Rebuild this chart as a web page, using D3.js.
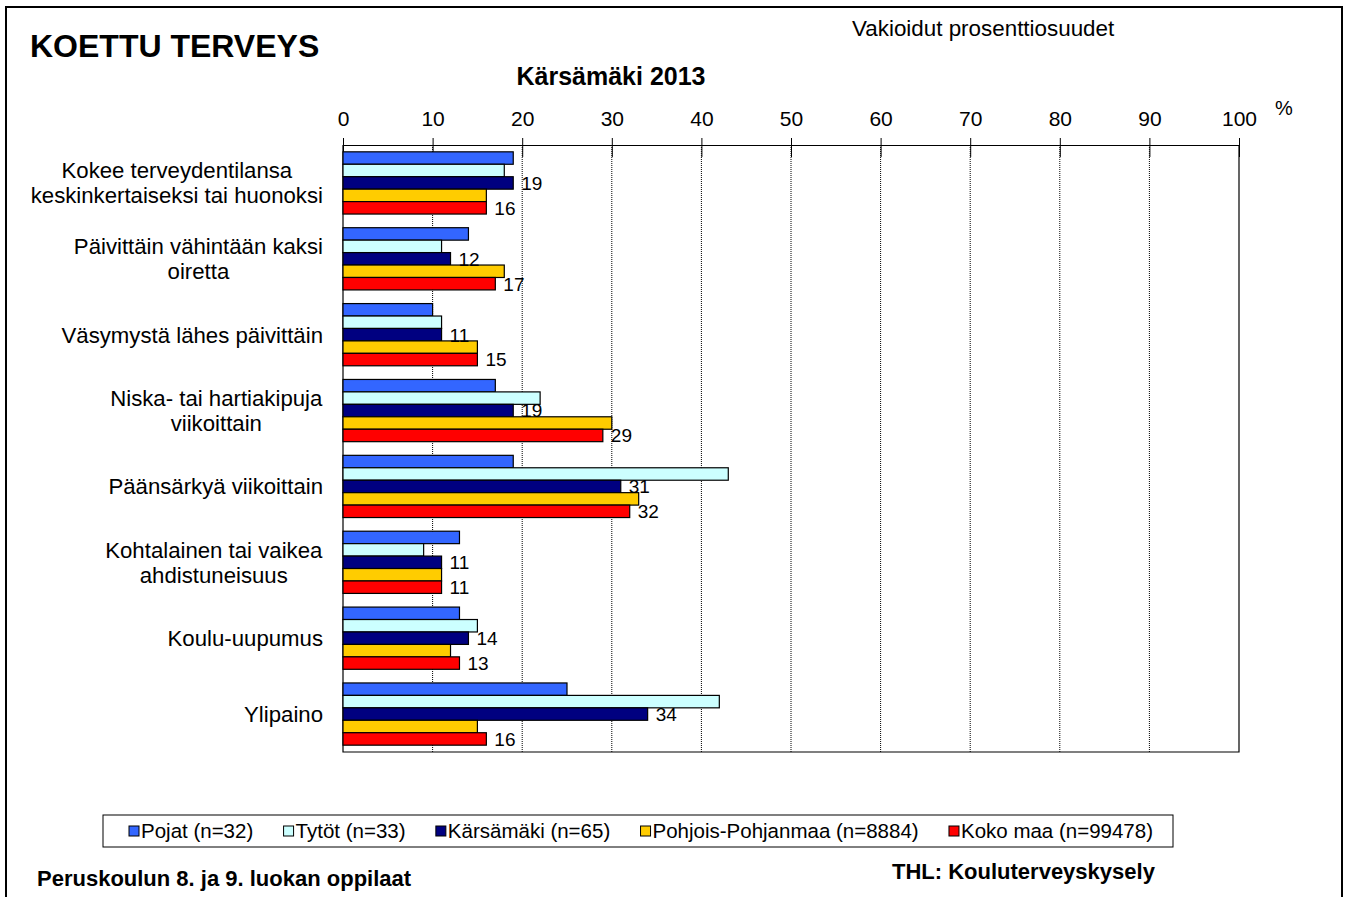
<!DOCTYPE html>
<html>
<head>
<meta charset="utf-8">
<style>
  body { margin: 0; background: #fff; font-family: "Liberation Sans", Arial, sans-serif; }
  .axis .domain { stroke: #000; }
  .axis .tick line { stroke: #000; }
  .axis .tick text { fill: #000; font-size: 21px; font-family: "Liberation Sans", Arial, sans-serif; }
  .grid line { stroke: #000; stroke-dasharray: 1,1; stroke-width: 1; }
  .bar { stroke: #000; stroke-width: 1.2; }
  .cat { font-size: 22.2px; fill: #000; }
  .val { font-size: 19px; fill: #000; }
  .legend text { font-size: 20.5px; fill: #000; }
</style>
<script src="https://d3js.org/d3.v7.min.js"></script>
</head>
<body>
<script>
// data
var categories = [
  "Kokee terveydentilansa|keskinkertaiseksi tai huonoksi",
  "Päivittäin vähintään kaksi|oiretta",
  "Väsymystä lähes päivittäin",
  "Niska- tai hartiakipuja|viikoittain",
  "Päänsärkyä viikoittain",
  "Kohtalainen tai vaikea|ahdistuneisuus",
  "Koulu-uupumus",
  "Ylipaino"
];
var seriesNames = ["Pojat (n=32)", "Tytöt (n=33)", "Kärsämäki (n=65)", "Pohjois-Pohjanmaa (n=8884)", "Koko maa (n=99478)"];
var seriesColors = ["#3366FF", "#CCFFFF", "#000080", "#FFCC00", "#FF0000"];
var pojat      = [19, 14, 10, 17, 19, 13, 13, 25];
var tytot      = [18, 11, 11, 22, 43,  9, 15, 42];
var karsamaki  = [19, 12, 11, 19, 31, 11, 14, 34];
var pohjois    = [16, 18, 15, 30, 33, 11, 12, 15];
var kokomaa    = [16, 17, 15, 29, 32, 11, 13, 16];
var labelled   = [false, false, true, false, true]; // only these series get value labels
var xTicks = [0, 10, 20, 30, 40, 50, 60, 70, 80, 90, 100];

var series = [pojat, tytot, karsamaki, pohjois, kokomaa];

var W = 1349, H = 897;
var svg = d3.select("body").append("svg")
    .attr("width", W)
    .attr("height", H);

// outer frame (bottom edge runs off the picture)
svg.append("path")
    .attr("d", "M6,899 V7 H1342 V899")
    .attr("fill", "none")
    .attr("stroke", "#000")
    .attr("stroke-width", 2);

var plot = {left: 343, right: 1239, top: 145, bottom: 752};

var x = d3.scaleLinear().domain([0, 100]).range([plot.left, plot.right]);
var y = d3.scaleBand().domain(d3.range(categories.length))
    .range([plot.top, plot.bottom])
    .paddingInner(0.18).paddingOuter(0.09);
var yInner = d3.scaleBand().domain(d3.range(series.length)).range([0, y.bandwidth()]);

// grid
svg.append("g").attr("class", "grid")
  .selectAll("line").data(xTicks.slice(1, -1)).join("line")
    .attr("x1", d => x(d)).attr("x2", d => x(d))
    .attr("y1", plot.top).attr("y2", plot.bottom);

// plot frame left/bottom/right
svg.append("path")
    .attr("d", "M" + plot.left + "," + plot.top + " V" + plot.bottom + " H" + plot.right + " V" + plot.top)
    .attr("fill", "none").attr("stroke", "#000").attr("stroke-width", 1.2);

// top axis
var ax = svg.append("g").attr("class", "axis")
    .attr("transform", "translate(0," + plot.top + ")")
    .call(d3.axisTop(x).tickValues(xTicks).tickSize(7).tickSizeOuter(0).tickPadding(12));
ax.selectAll(".tick line").attr("y2", 12).attr("y1", -7);
ax.select(".domain").attr("stroke-width", 1.2);

svg.append("text").attr("x", 1275).attr("y", 115).attr("font-size", 20).text("%");

// bars
var groups = svg.append("g").selectAll("g").data(categories).join("g")
    .attr("transform", (d, i) => "translate(0," + y(i) + ")");

groups.each(function(c, ci) {
  var g = d3.select(this);
  series.forEach(function(s, si) {
    g.append("rect").attr("class", "bar")
      .attr("x", x(0))
      .attr("y", yInner(si))
      .attr("width", x(s[ci]) - x(0))
      .attr("height", yInner.bandwidth())
      .attr("fill", seriesColors[si]);
  });
  series.forEach(function(s, si) {
    if (!labelled[si]) return;
    g.append("text").attr("class", "val")
      .attr("x", x(s[ci]) + 8)
      .attr("y", yInner(si) + yInner.bandwidth() / 2)
      .attr("dy", "0.36em")
      .text(s[ci]);
  });
});

// category labels, centred lines, block right edge at x=323
categories.forEach(function(c, ci) {
  var lines = c.split("|");
  var cy = y(ci) + y.bandwidth() / 2;
  var t = svg.append("text").attr("class", "cat")
    .attr("text-anchor", "middle")
    .attr("y", cy - (lines.length - 1) * 12.5);
  lines.forEach(function(l, li) {
    t.append("tspan").attr("x", 190).attr("dy", li === 0 ? "0.36em" : 25).text(l);
  });
  var bb = t.node().getBBox();
  t.attr("transform", "translate(" + (323 - (bb.x + bb.width)) + ",0)");
});

// titles
svg.append("text").attr("x", 30).attr("y", 57)
    .attr("font-size", 32).attr("font-weight", "bold").text("KOETTU TERVEYS");
svg.append("text").attr("x", 611).attr("y", 85).attr("text-anchor", "middle")
    .attr("font-size", 25).attr("font-weight", "bold").text("Kärsämäki 2013");
svg.append("text").attr("x", 852).attr("y", 36)
    .attr("font-size", 22.4).text("Vakioidut prosenttiosuudet");

// legend: spread entries between first square and last text end
var lg = svg.append("g").attr("class", "legend");
lg.append("rect").attr("x", 103).attr("y", 815).attr("width", 1070).attr("height", 32)
    .attr("fill", "#fff").attr("stroke", "#000").attr("stroke-width", 1);
var items = seriesNames.map(function(n, i) {
  var sq = lg.append("rect").attr("y", 826).attr("width", 10).attr("height", 10)
    .attr("fill", seriesColors[i]).attr("stroke", "#000").attr("stroke-width", 1);
  var t = lg.append("text").attr("y", 831).attr("dy", "0.36em").text(n);
  return {sq: sq, t: t, w: t.node().getComputedTextLength()};
});
var lStart = 129, lEnd = 1153, sqW = 12;
var used = d3.sum(items, d => d.w + sqW);
var gap = (lEnd - lStart - used) / (items.length - 1);
var lx = lStart;
items.forEach(function(d) {
  d.sq.attr("x", lx);
  d.t.attr("x", lx + sqW);
  lx += sqW + d.w + gap;
});

// footer
svg.append("text").attr("x", 37).attr("y", 886)
    .attr("font-size", 22).attr("font-weight", "bold").text("Peruskoulun 8. ja 9. luokan oppilaat");
svg.append("text").attr("x", 892).attr("y", 879)
    .attr("font-size", 22).attr("font-weight", "bold").text("THL: Kouluterveyskysely");
</script>
</body>
</html>
